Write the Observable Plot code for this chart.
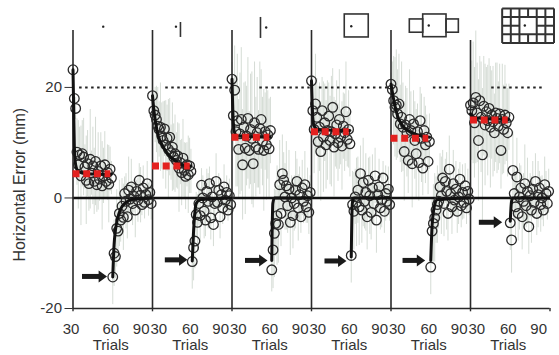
<!DOCTYPE html>
<html><head><meta charset="utf-8">
<script src="https://cdn.jsdelivr.net/npm/d3@7"></script>
<script src="https://cdn.jsdelivr.net/npm/@observablehq/plot@0.6"></script>
<style>
html,body{margin:0;padding:0;background:#fff;}
svg{display:block;}
</style></head><body>
<script>
// ---------- data ----------
const panels = [0, 1, 2, 3, 4, 5];
const adaptTrials = [30,31,32,33,34,35,36,37,38,39,40,41,42,43,44,45,46,47,48,49,50,51,52,53,54,55,56,57,58,59];
const washTrials  = [60,61,62,63,64,65,66,67,68,69,70,71,72,73,74,75,76,77,78,79,80,81,82,83,84,85,86,87,88,89];

const adaptP1 = [23.2,18.0,16.2,8.3,6.0,7.8,4.0,8.0,7.4,5.6,3.2,6.2,2.6,7.0,4.5,5.8,3.0,6.6,2.4,4.8,3.4,5.8,2.2,4.0,6.0,3.0,4.6,2.5,5.2,3.6];
const adaptP2 = [18.5,15.8,15.0,14.2,13.0,12.4,12.8,11.2,10.4,12.5,9.6,10.8,8.8,11.0,8.2,9.2,7.4,8.0,6.8,7.6,5.4,6.4,4.6,7.2,5.0,3.9,6.0,4.2,5.8,4.8];
const adaptP3 = [21.5,14.9,19.5,12.0,14.0,8.8,11.6,14.2,6.0,12.8,9.0,11.2,14.4,8.6,12.4,10.8,6.2,13.6,9.2,11.8,8.8,12.6,14.2,10.2,8.6,12.0,9.6,11.4,8.9,12.2];
const adaptP4 = [21.2,15.8,12.4,17.0,14.6,10.2,12.8,8.4,15.8,11.0,13.6,9.6,12.2,14.8,10.4,12.0,16.4,9.2,11.6,13.2,10.0,14.2,11.0,9.4,13.0,11.8,15.6,10.6,12.4,9.8];
const adaptP5 = [20.6,19.6,17.6,16.4,16.8,15.2,17.0,13.4,14.6,12.8,8.4,13.2,11.8,6.8,14.2,12.2,6.2,13.4,10.4,8.0,12.0,6.4,14.0,10.8,5.4,12.2,9.6,11.0,6.6,10.2];
const adaptP6 = [16.8,15.8,17.2,13.6,18.2,15.4,10.4,17.6,14.6,7.8,16.6,13.2,15.6,14.0,16.2,12.8,15.0,13.8,11.8,15.4,14.4,13.0,15.2,8.6,14.2,12.4,15.0,13.6,11.8,14.6];

const washP1 = [-14.3,-10.0,-10.6,-5.5,-6.0,-2.8,-4.0,-1.5,-3.5,0.8,-0.6,-3.4,1.4,-0.2,2.0,-1.0,0.3,-2.2,1.2,-0.4,3.2,0.5,-1.2,1.8,-0.8,0.6,2.6,-0.3,1.0,-1.0];
const washP2 = [-11.5,-9.0,-7.8,-3.0,-4.4,-1.0,-3.2,2.3,0.0,-2.4,-4.0,1.2,-0.6,2.6,-3.6,0.2,-4.8,-1.0,3.0,-0.8,1.4,-3.4,0.6,-1.8,2.0,-0.4,1.0,-2.2,0.4,-1.2];
const washP3 = [-13.0,-9.4,-6.4,-4.6,-3.2,-4.8,2.4,-2.8,4.4,3.2,0.2,2.2,-1.4,1.6,-4.4,0.0,-3.2,-1.0,1.4,3.0,-1.8,0.6,-3.4,1.8,-0.6,2.4,-1.6,0.4,-2.6,1.0];
const washP4 = [-10.4,-1.2,-2.4,0.2,-0.8,1.4,-1.6,4.4,-2.2,2.8,-0.6,1.0,-3.4,3.2,0.4,-2.6,1.8,-1.0,4.0,-4.0,0.6,2.0,-1.8,-0.4,3.6,-2.4,0.8,-0.6,1.6,-1.2];
const washP5 = [-12.5,-6.0,-4.6,-3.6,-2.2,-1.2,-0.6,2.0,0.4,3.6,-1.0,3.0,1.2,-2.8,5.2,0.8,-1.6,2.6,-0.4,1.6,-2.4,0.2,3.4,-1.4,1.0,-0.8,2.2,-1.8,1.2,-0.2];
const washP6 = [-4.5,-7.6,5.0,0.8,-1.6,3.8,-2.8,0.2,1.8,-3.4,-0.6,2.6,-1.4,1.2,-5.2,0.4,-2.2,1.6,-0.8,3.0,-2.8,0.6,1.8,-1.2,0.0,-2.2,2.4,0.8,-1.0,1.2];

// spread of the individual-subject traces (grey) around each trial mean
const spreadAP1 = [1,1,2,6,8,5,9,6,7,4,8,6,5,9,4,7,6,8,5,7,4,6,8,5,6,3,5,7,4,3];
const spreadAP2 = [1,3,5,6,7,5,8,6,7,5,8,6,9,7,5,8,6,7,5,6,8,4,6,7,5,6,4,7,5,4];
const spreadAP3 = [3,6,8,10,12,9,11,13,10,8,12,9,11,7,10,12,8,11,9,10,7,12,9,8,11,7,10,8,9,6];
const spreadAP4 = [2,5,8,9,7,10,8,9,6,10,7,8,9,6,8,10,7,9,6,8,7,9,5,8,6,7,9,5,7,6];
const spreadAP5 = [2,5,8,9,10,8,9,7,10,8,9,7,8,6,9,7,8,6,7,8,5,7,6,8,5,6,7,4,6,5];
const spreadAP6 = [6,9,11,10,12,9,11,8,10,12,9,11,8,10,9,11,8,10,7,9,10,8,9,7,10,8,9,7,8,6];
const spreadWP1 = [5,6,4,7,5,6,4,5,6,3,5,4,6,3,5,4,3,5,2,4,3,5,2,4,3,2,4,3,2,3];
const spreadWP2 = [5,6,5,4,5,4,5,3,4,5,3,4,5,3,4,2,4,3,5,2,3,4,2,3,4,2,3,2,3,2];
const spreadWP3 = [4,7,8,6,9,7,8,6,7,5,6,8,5,7,6,4,6,5,7,4,6,5,3,5,4,6,3,5,4,3];
const spreadWP4 = [5,6,7,5,8,6,7,5,6,8,5,7,6,4,7,5,6,4,5,6,3,5,4,5,3,4,5,3,4,3];
const spreadWP5 = [5,6,7,8,6,7,5,6,7,5,6,4,7,5,6,4,5,6,3,5,4,5,3,4,5,3,4,3,4,3];
const spreadWP6 = [5,6,7,5,6,7,5,6,4,6,5,7,4,6,5,4,6,5,3,5,4,6,3,5,4,3,5,4,3,4];

// fitted curves [trial, value]
const fitAP1 = [[30,23.2],[31,9.5],[32,6.0],[34,4.8],[40,4.4],[59,4.3]];
const fitAP2 = [[30,18.5],[31,16],[32,14.2],[33,12.8],[34,11.5],[36,10.2],[40,8.5],[44,7.3],[48,6.6],[52,6.0],[59,5.8]];
const fitAP3 = [[30,21.5],[31,13.5],[32,11.8],[34,11.2],[59,11.0]];
const fitAP4 = [[30,21.2],[31,14.5],[32,13.0],[35,12.4],[59,12.2]];
const fitAP5 = [[30,20.6],[32,17.8],[35,14.8],[39,13.0],[44,12.0],[49,11.5],[55,11.1],[59,11.0]];
const fitAP6 = [[30,15.2],[33,14.5],[59,14.2]];
const fitWP1 = [[60,-14.3],[61,-8.5],[62,-5.9],[64,-3.4],[66,-2.0],[70,-0.8],[76,-0.2],[89,0]];
const fitWP2 = [[60,-11.4],[61,-6],[62,-2.5],[63,-1.0],[66,-0.3],[89,0]];
const fitWP3 = [[60,-11.3],[60.8,-1.0],[62,0],[89,0]];
const fitWP4 = [[60,-10.7],[60.8,-1.0],[62,0],[89,0]];
const fitWP5 = [[60,-11.3],[61,-5],[62,-2.5],[63,-1.2],[65,-0.3],[89,0]];
const fitWP6 = [[60,-4.2],[61,-0.6],[62,0],[89,0]];

const asymptote = [4.4, 5.8, 11.0, 12.0, 10.8, 14.1];     // red dashed levels
const arrowY    = [-14.2, -11.2, -11.3, -11.4, -11.3, -4.4];
const arrowTail = [36.8, 39.3, 39.8, 39.8, 38.7, 36.3];
const arrowTip  = [55.7, 56.4, 56.8, 56.4, 55.8, 53.9];
const dottedStart = [35, 40, 51, 36, 62, 46];
const dottedEnd   = [87, 89, 89, 89, 89, 85];
const panelTop  = [30.3, 30.3, 30.3, 30.3, 30.3, 28.5];

const yTicks = [-20, 0, 20];
const xTickLabels = ["30", "60", "90"];
const xTitle = "Trials";
const yTitle = "Horizontal Error (mm)";

// stimulus icons above panels (chart units)
const iconDots = [{x:52.8,y:31.0},{x:107.7,y:31.0},{x:175.8,y:30.85},{x:240.0,y:31.08},{x:298.5,y:31.2},{x:371.0,y:31.2}];
const iconBars = [{x:111.1,y1:29.04,y2:31.75},{x:171.5,y1:28.86,y2:32.66}];
const iconRects = [{x1:235.1,x2:253.2,y1:29.04,y2:33.2},{x1:284.2,x2:294.3,y1:29.9,y2:32.3},{x1:294.3,x2:311.9,y1:29.09,y2:33.2},{x1:311.9,x2:321.2,y1:29.9,y2:32.3}];
const gridX0 = 353.9, gridCellW = 6.52, gridY0 = 28.04, gridCellH = 1.5625, gridCols = 6, gridRows = 4;

// ---------- assemble ----------
const adaptVals = [adaptP1, adaptP2, adaptP3, adaptP4, adaptP5, adaptP6];
const washVals = [washP1, washP2, washP3, washP4, washP5, washP6];
const adaptSpread = [spreadAP1, spreadAP2, spreadAP3, spreadAP4, spreadAP5, spreadAP6];
const washSpread = [spreadWP1, spreadWP2, spreadWP3, spreadWP4, spreadWP5, spreadWP6];
const fitsA = [fitAP1, fitAP2, fitAP3, fitAP4, fitAP5, fitAP6];
const fitsW = [fitWP1, fitWP2, fitWP3, fitWP4, fitWP5, fitWP6];
const off = i => 60 * i;

const pts = panels.flatMap(i => [
  ...adaptTrials.map((t, j) => ({p: i, gx: t + off(i), v: adaptVals[i][j], s: adaptSpread[i][j]})),
  ...washTrials.map((t, j) => ({p: i, gx: t + off(i), v: washVals[i][j], s: washSpread[i][j]}))
]);
const fitRows = panels.flatMap(i => [
  ...fitsA[i].map(([t, v]) => ({k: "a" + i, gx: t + off(i), v})),
  ...fitsW[i].map(([t, v]) => ({k: "w" + i, gx: t + off(i), v}))
]);
const arrows = panels.map(i => ({x1: arrowTail[i] + off(i), x2: arrowTip[i] + off(i), y: arrowY[i]}));
const gridSegs = [];
for (let c = 0; c <= gridCols; c++) {
  const x = gridX0 + c * gridCellW;
  if (c === gridCols / 2) {
    gridSegs.push({x1: x, x2: x, y1: gridY0, y2: gridY0 + gridCellH});
    gridSegs.push({x1: x, x2: x, y1: gridY0 + 3 * gridCellH, y2: gridY0 + 4 * gridCellH});
  } else gridSegs.push({x1: x, x2: x, y1: gridY0, y2: gridY0 + gridRows * gridCellH});
}
for (let r = 0; r <= gridRows; r++) {
  const y = gridY0 + r * gridCellH;
  if (r === gridRows / 2) {
    gridSegs.push({x1: gridX0, x2: gridX0 + 2 * gridCellW, y1: y, y2: y});
    gridSegs.push({x1: gridX0 + 4 * gridCellW, x2: gridX0 + 6 * gridCellW, y1: y, y2: y});
  } else gridSegs.push({x1: gridX0, x2: gridX0 + gridCols * gridCellW, y1: y, y2: y});
}
const arrowHead = {draw(ctx, size) { const r = Math.sqrt(size / Math.PI); ctx.moveTo(0, 0); ctx.lineTo(-1.4 * r, -r); ctx.lineTo(-1.4 * r, r); ctx.closePath(); }};

const ink = "#2a2a2a";
const font = "'Liberation Sans', Arial, sans-serif";

const chart = Plot.plot({
  width: 559, height: 355,
  marginLeft: 72.5, marginRight: 9.5, marginTop: 30, marginBottom: 47,
  x: {domain: [30, 390], axis: null},
  y: {domain: [-20, 30.3], ticks: yTicks, tickSize: 8, tickPadding: 3, label: null, tickFormat: d => String(d)},
  style: {fontFamily: font, fontSize: "15px", color: "#333", background: "white", overflow: "visible"},
  marks: [
    Plot.ruleX(pts, {x: "gx", y1: d => d.v - d.s, y2: d => d.v + d.s, stroke: "#d0d8d0", strokeWidth: 0.9}),
    Plot.ruleY(panels, {y: () => 20, x1: i => dottedStart[i] + off(i), x2: i => dottedEnd[i] + off(i), stroke: "#222", strokeWidth: 2, strokeDasharray: "2.5,3.5"}),
    Plot.ruleY([0], {x1: 30, x2: 390, stroke: "#111", strokeWidth: 2.5}),
    Plot.ruleX(panels, {x: i => 30 + off(i), y1: -20, y2: i => panelTop[i], stroke: ink, strokeWidth: 1.6}),
    Plot.ruleY([-20], {x1: 30, x2: 390, stroke: ink, strokeWidth: 1.6}),
    Plot.ruleX([30, 90, 150, 210, 270, 330, 390], {y1: -20, y2: -20.6, stroke: ink, strokeWidth: 1.4}),
    Plot.dot(pts, {x: "gx", y: "v", r: 4.8, stroke: ink, strokeWidth: 1.3, fill: "none"}),
    Plot.line(fitRows, {x: "gx", y: "v", z: "k", stroke: "#111", strokeWidth: 3, curve: "monotone-x"}),
    Plot.ruleY(panels, {y: i => asymptote[i], x1: i => 30 + off(i), x2: i => 58.5 + off(i), stroke: "#e3211f", strokeWidth: 7, strokeDasharray: "7,3.7"}),
    Plot.link(arrows, {x1: "x1", x2: d => d.x2 - 5.3, y1: "y", y2: "y", stroke: "#1a1a1a", strokeWidth: 5}),
    Plot.dot(arrows, {x: "x2", y: "y", symbol: arrowHead, r: 6, fill: "#1a1a1a", stroke: "none"}),
    // x tick labels
    Plot.text(panels.filter(i => i === 0), {x: i => 30 + off(i), y: () => -23.8, text: () => xTickLabels[0], textAnchor: "middle", dx: -2, fontSize: 15, fill: "#333"}),
    Plot.text(panels.filter(i => i > 0), {x: i => 30 + off(i), y: () => -23.8, text: () => xTickLabels[0], textAnchor: "start", dx: -2, fontSize: 15, fill: "#333"}),
    Plot.text(panels, {x: i => 60 + off(i), y: () => -23.8, text: () => xTickLabels[1], textAnchor: "middle", dx: -2, fontSize: 15, fill: "#333"}),
    Plot.text(panels, {x: i => 90 + off(i), y: () => -23.8, text: () => xTickLabels[2], textAnchor: "end", dx: -3, fontSize: 15, fill: "#333"}),
    Plot.text(panels, {x: i => 60 + off(i), y: () => -26.7, text: () => xTitle, textAnchor: "middle", dx: -2, fontSize: 15, fill: "#333"}),
    Plot.text([yTitle], {x: -10.4, y: 2.4, text: d => d, rotate: -90, fontSize: 16, fill: "#333"}),
    // icons
    Plot.rect(iconRects, {x1: "x1", x2: "x2", y1: "y1", y2: "y2", fill: "none", stroke: "#333", strokeWidth: 1.6}),
    Plot.ruleX(iconBars, {x: "x", y1: "y1", y2: "y2", stroke: "#333", strokeWidth: 1.6}),
    Plot.link(gridSegs, {x1: "x1", x2: "x2", y1: "y1", y2: "y2", stroke: "#333", strokeWidth: 2}),
    Plot.dot(iconDots, {x: "x", y: "y", r: 1.2, fill: "#222", stroke: "none"})
  ]
});
document.body.appendChild(chart);
</script>
</body></html>
